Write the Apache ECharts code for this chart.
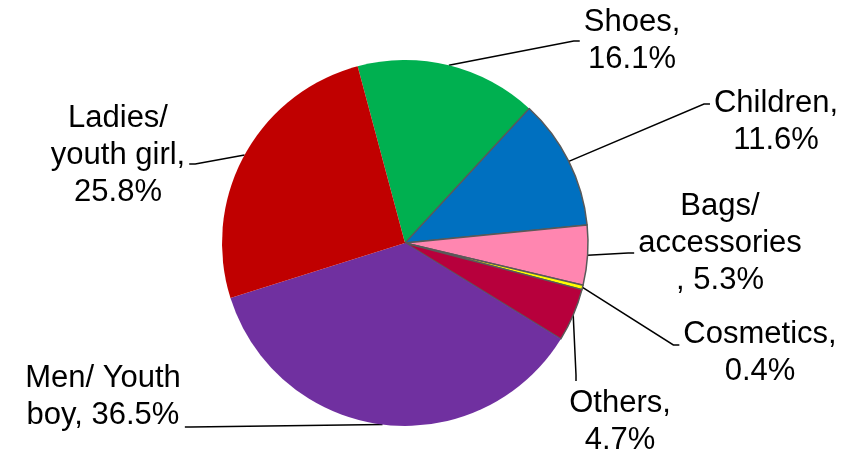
<!DOCTYPE html>
<html>
<head>
<meta charset="utf-8">
<script src="https://cdn.jsdelivr.net/npm/echarts@6/dist/echarts.min.js"></script>
<style>
  html, body { margin: 0; padding: 0; background: #ffffff; }
  #chart { width: 862px; height: 455px; }
</style>
</head>
<body>
<div id="chart"></div>
<script>
// Sales share by product category (%)
const categories = ['Shoes', 'Children', 'Bags/\naccessories', 'Cosmetics', 'Others', 'Men/ Youth\nboy', 'Ladies/\nyouth girl'];
const shares = [16.1, 11.6, 5.3, 0.4, 4.7, 36.5, 25.8];
// text placed between category name and percentage in each label
const joiners = [',\n', ',\n', '\n, ', ',\n', ',\n', ', ', ',\n'];

const colors = ['#00B050', '#0070C0', '#FF86B0', '#FFFF00', '#B7003C', '#7030A0', '#C00000'];
const outlined = [false, true, true, true, true, false, false];

// label block centres in pixels
const labelSpots = [
  [632, 41], [776, 122], [720, 243], [760, 353], [620, 422], [103, 397], [118, 155]
];
// which side of the label the leader line meets, and the offset along that side
const leaderSide = ['left', 'left', 'left', 'left', 'top', 'right', 'right'];
const leaderOffset = [0, -18, 10, -8, -44, 30, 9];

const chart = echarts.init(document.getElementById('chart'), null, { renderer: 'canvas' });

chart.setOption({
  animation: false,
  backgroundColor: '#ffffff',
  series: [{
    type: 'pie',
    center: [405, 243],
    radius: [0, 183],
    startAngle: 105,
    clockwise: true,
    avoidLabelOverlap: false,
    data: categories.map((name, i) => ({
      name: name,
      value: shares[i],
      itemStyle: {
        color: colors[i],
        borderColor: outlined[i] ? '#595959' : colors[i],
        borderWidth: outlined[i] ? 1.5 : 0
      }
    })),
    label: {
      show: true,
      position: 'outside',
      color: '#000000',
      fontFamily: '"Liberation Sans", Arial, sans-serif',
      fontSize: 31,
      lineHeight: 37,
      align: 'center',
      formatter: (p) => categories[p.dataIndex] + joiners[p.dataIndex] + shares[p.dataIndex].toFixed(1) + '%'
    },
    labelLine: {
      show: true,
      length: 20,
      length2: 6,
      smooth: false,
      lineStyle: { color: '#000000', width: 1.5 }
    },
    labelLayout: (params) => {
      const i = params.dataIndex;
      const s = labelSpots[i];
      const w = params.labelRect.width;
      const h = params.labelRect.height;
      // leader starts at the middle of the slice's outer arc
      const anchor = params.labelLinePoints ? params.labelLinePoints[0] : s;
      let end, elbow;
      if (leaderSide[i] === 'left') {
        end = [s[0] - w / 2 - 4, s[1] + leaderOffset[i]];
        elbow = [end[0] - 6, end[1]];
      } else if (leaderSide[i] === 'right') {
        end = [s[0] + w / 2 + 4, s[1] + leaderOffset[i]];
        elbow = [end[0] + 6, end[1]];
      } else {
        end = [s[0] + leaderOffset[i], s[1] - h / 2 - 4];
        elbow = [end[0], end[1] - 6];
      }
      return {
        x: s[0], y: s[1], align: 'center', verticalAlign: 'middle',
        labelLinePoints: [anchor, elbow, end]
      };
    },
    emphasis: { disabled: true }
  }]
});
</script>
</body>
</html>
